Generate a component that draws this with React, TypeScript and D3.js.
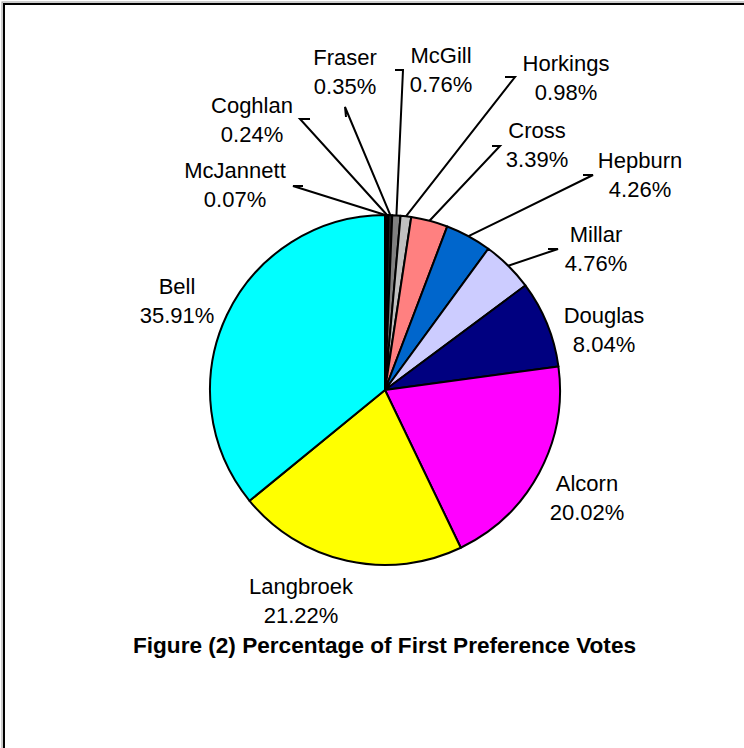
import { useEffect } from "react";
import * as d3 from "d3";

// clockwise from 12 o'clock
const candidates = [
  "McJannett",
  "Coghlan",
  "Fraser",
  "McGill",
  "Horkings",
  "Cross",
  "Hepburn",
  "Millar",
  "Douglas",
  "Alcorn",
  "Langbroek",
  "Bell",
];
const votePct = [0.07, 0.24, 0.35, 0.76, 0.98, 3.39, 4.26, 4.76, 8.04, 20.02, 21.22, 35.91];
const sliceColors = [
  "#000000",
  "#000000",
  "#202020",
  "#808080",
  "#c0c0c0",
  "#ff8080",
  "#0066cc",
  "#ccccff",
  "#000080",
  "#ff00ff",
  "#ffff00",
  "#00ffff",
];

const title = "Figure (2) Percentage of First Preference Votes";

// label placement (centre x, first baseline) and leader elbow, hand placed like the original
const labelLayout: { x: number; y: number; elbow?: [number, number][] }[] = [
  { x: 235, y: 178, elbow: [[293, 186], [303, 186]] },
  { x: 252, y: 113, elbow: [[300, 119], [310, 119]] },
  { x: 345, y: 65, elbow: [[345, 107], [346, 117]] },
  { x: 441, y: 63, elbow: [[403, 70], [395, 70]] },
  { x: 566, y: 71, elbow: [[515, 77], [505, 77]] },
  { x: 537, y: 138, elbow: [[500, 146], [492, 146]] },
  { x: 640, y: 168, elbow: [[593, 175], [583, 175]] },
  { x: 596, y: 242, elbow: [[558, 249], [548, 249]] },
  { x: 604, y: 323 },
  { x: 587, y: 491 },
  { x: 301, y: 594 },
  { x: 177, y: 294 },
];

const W = 744;
const H = 748;
const cx = 385;
const cy = 390;
const R = 175;
const font = "'Liberation Sans', Arial, sans-serif";

export default function App() {
  useEffect(() => {
    document.body.style.margin = "0";
    document.body.style.overflow = "hidden";
  }, []);

  const pie = d3
    .pie<number>()
    .sort(null)
    .value((d) => d)
    .startAngle(0)
    .endAngle(2 * Math.PI);
  const arcs = pie(votePct);
  const arc = d3.arc<d3.PieArcDatum<number>>().innerRadius(0).outerRadius(R);

  const onRim = (a: d3.PieArcDatum<number>): [number, number] => {
    const m = (a.startAngle + a.endAngle) / 2;
    return [cx + R * Math.sin(m), cy - R * Math.cos(m)];
  };
  const line = d3.line<[number, number]>();

  return (
    <svg
      width={W}
      height={H}
      viewBox={`0 0 ${W} ${H}`}
      style={{ position: "absolute", left: 0, top: 0, display: "block" }}
    >
      <rect x={0} y={0} width={W} height={H} fill="#fff" />
      <rect x={2} y={2} width={W + 40} height={H + 40} fill="none" stroke="#999" strokeWidth={1} />
      <rect x={4} y={4} width={W + 40} height={H + 40} fill="none" stroke="#000" strokeWidth={2} />

      <g transform={`translate(${cx},${cy})`}>
        {arcs.map((a, i) => (
          <path
            key={candidates[i]}
            d={arc(a) || ""}
            fill={sliceColors[i]}
            stroke="#000"
            strokeWidth={2}
            strokeLinejoin="round"
          />
        ))}
      </g>

      {arcs.map((a, i) => {
        const lay = labelLayout[i];
        if (!lay.elbow) return null;
        const pts: [number, number][] = [...lay.elbow].reverse();
        pts.push(onRim(a));
        return (
          <path
            key={"l" + i}
            d={line(pts) || ""}
            fill="none"
            stroke="#000"
            strokeWidth={2}
          />
        );
      })}

      {arcs.map((a, i) => {
        const lay = labelLayout[i];
        return (
          <text
            key={"t" + i}
            x={lay.x}
            y={lay.y}
            textAnchor="middle"
            fontFamily={font}
            fontSize={22}
            fill="#000"
          >
            <tspan x={lay.x}>{candidates[i]}</tspan>
            <tspan x={lay.x} dy={29}>
              {d3.format(".2f")(a.data)}%
            </tspan>
          </text>
        );
      })}

      <text
        x={384.5}
        y={653}
        textAnchor="middle"
        fontFamily={font}
        fontSize={22.6}
        fontWeight="bold"
        fill="#000"
      >
        {title}
      </text>
    </svg>
  );
}
